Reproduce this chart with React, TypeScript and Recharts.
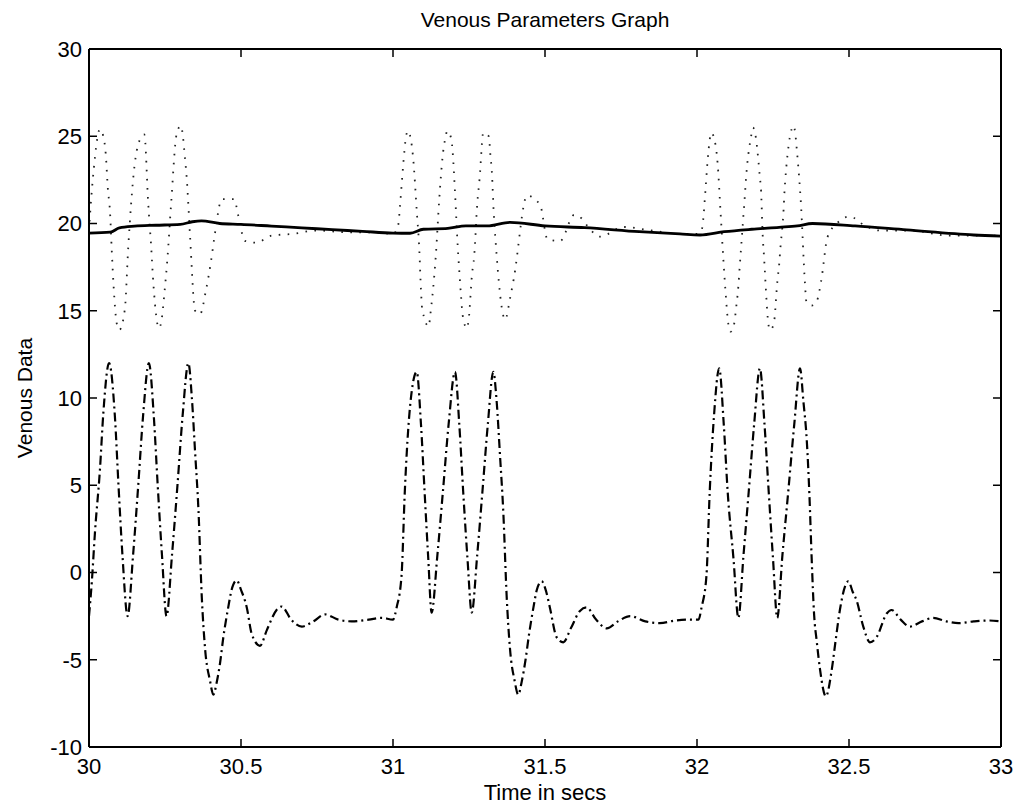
import React from 'react';
import { LineChart, Line, XAxis, YAxis } from 'recharts';

// x axis (seconds) and y axis ticks
const xTicks = [30, 30.5, 31, 31.5, 32, 32.5, 33];
const yTicks = [-10, -5, 0, 5, 10, 15, 20, 25, 30];

// solid line: slowly drifting level
const solidTimes = [
  30.0, 30.07, 30.1, 30.15, 30.22, 30.3, 30.34, 30.37, 30.43, 30.5, 30.6, 30.7, 30.8, 30.9,
  31.0, 31.056, 31.1, 31.18, 31.24, 31.31, 31.385, 31.5, 31.63, 31.81, 31.944,
  32.01, 32.09, 32.18, 32.27, 32.33, 32.38, 32.52, 32.69, 32.91, 33.0,
];
const solidValues = [
  19.45, 19.5, 19.75, 19.85, 19.9, 19.95, 20.1, 20.15, 20.0, 19.95, 19.85, 19.75, 19.65, 19.55,
  19.45, 19.44, 19.67, 19.72, 19.86, 19.86, 20.07, 19.86, 19.76, 19.53, 19.4,
  19.34, 19.53, 19.67, 19.78, 19.86, 20.0, 19.86, 19.63, 19.34, 19.28,
];

// dotted line
const dottedTimes = [
  30.0, 30.003, 30.015, 30.036, 30.047, 30.055, 30.062, 30.069, 30.075, 30.081, 30.091, 30.1,
  30.118, 30.129, 30.149, 30.165, 30.182, 30.195, 30.204, 30.212, 30.23, 30.239, 30.248, 30.258,
  30.27, 30.288, 30.302, 30.316, 30.323, 30.332, 30.349, 30.365, 30.385, 30.401, 30.414, 30.437,
  30.477, 30.491, 30.504, 30.514, 30.55, 30.6, 30.667, 30.75, 30.85, 30.95,
  31.0, 31.017, 31.023, 31.034, 31.043, 31.049, 31.063, 31.066, 31.079, 31.086, 31.092, 31.096,
  31.118, 31.122, 31.141, 31.152, 31.158, 31.163, 31.171, 31.179, 31.191, 31.216, 31.224, 31.229,
  31.243, 31.249, 31.26, 31.267, 31.277, 31.285, 31.297, 31.315, 31.32, 31.325, 31.332, 31.337,
  31.369, 31.386, 31.397, 31.441, 31.484, 31.508, 31.55, 31.596, 31.62, 31.64, 31.68, 31.76,
  31.85, 31.95,
  32.0, 32.015, 32.029, 32.033, 32.038, 32.047, 32.062, 32.068, 32.078, 32.087, 32.093, 32.103,
  32.111, 32.124, 32.127, 32.136, 32.14, 32.15, 32.159, 32.161, 32.178, 32.184, 32.192, 32.202,
  32.207, 32.21, 32.217, 32.219, 32.229, 32.231, 32.24, 32.252, 32.265, 32.271, 32.273, 32.285,
  32.288, 32.29, 32.305, 32.318, 32.323, 32.329, 32.342, 32.355, 32.36, 32.378, 32.394, 32.408,
  32.429, 32.46, 32.503, 32.55, 32.6, 32.7, 32.83, 33.0,
];
const dottedValues = [
  19.6, 20.4, 23.0, 25.4, 25.0, 24.0, 22.0, 20.7, 18.4, 16.4, 14.3, 13.9,
  15.1, 18.6, 23.2, 24.7, 25.1, 21.1, 18.8, 16.5, 14.0, 14.5, 16.0, 18.0,
  21.1, 25.1, 25.6, 23.7, 22.2, 19.4, 15.0, 14.8, 16.2, 17.8, 19.4, 21.4,
  21.4, 20.45, 19.4, 19.0, 18.9, 19.3, 19.4, 19.6, 19.5, 19.5,
  19.4, 19.9, 21.0, 23.45, 25.0, 25.3, 24.3, 23.8, 20.5, 18.7, 16.2, 15.1,
  14.1, 14.65, 18.2, 21.35, 22.8, 23.8, 24.8, 25.3, 24.9, 17.8, 15.8, 14.75,
  14.0, 14.5, 17.1, 18.1, 21.1, 22.6, 25.2, 25.0, 24.0, 23.0, 20.4, 19.1,
  14.5, 15.8, 16.8, 21.6, 21.06, 19.1, 19.0, 20.5, 20.3, 19.85, 19.25, 19.8,
  19.6, 19.4,
  19.4, 19.6, 22.2, 23.2, 24.2, 25.2, 24.4, 23.4, 20.5, 17.85, 16.3, 14.25,
  13.8, 14.4, 14.9, 16.4, 17.4, 19.8, 22.0, 22.5, 25.0, 25.5, 25.1, 23.6,
  22.6, 22.1, 19.0, 18.5, 15.5, 14.95, 13.9, 14.2, 16.8, 17.8, 18.3, 20.85,
  21.9, 22.4, 24.9, 25.6, 25.2, 24.1, 21.1, 16.6, 15.5, 15.3, 15.55, 16.65,
  19.2, 20.0, 20.4, 19.9, 19.6, 19.6, 19.3, 19.3,
];

// dash-dot line
const dashTimes = [
  30.0, 30.009, 30.02, 30.036, 30.047, 30.066, 30.085, 30.097, 30.11, 30.127, 30.145, 30.162,
  30.178, 30.197, 30.213, 30.226, 30.24, 30.255, 30.273, 30.291, 30.308, 30.327, 30.338, 30.349,
  30.36, 30.371, 30.382, 30.398, 30.409, 30.42, 30.431, 30.442, 30.458, 30.469, 30.486, 30.5,
  30.519, 30.535, 30.5625, 30.585, 30.617, 30.634, 30.665, 30.7, 30.738, 30.776, 30.82, 30.864,
  30.92, 30.963, 31.0,
  31.012, 31.028, 31.039, 31.056, 31.078, 31.092, 31.104, 31.116, 31.127, 31.146, 31.164, 31.183,
  31.204, 31.218, 31.231, 31.245, 31.259, 31.277, 31.294, 31.312, 31.33, 31.341, 31.352, 31.363,
  31.374, 31.385, 31.4, 31.412, 31.424, 31.436, 31.447, 31.462, 31.473, 31.489, 31.504, 31.516,
  31.538, 31.56, 31.585, 31.615, 31.637, 31.668, 31.703, 31.74, 31.78, 31.83, 31.878, 31.93,
  31.977, 32.005,
  32.015, 32.031, 32.042, 32.056, 32.073, 32.088, 32.101, 32.12, 32.136, 32.153, 32.17, 32.188,
  32.207, 32.222, 32.236, 32.25, 32.264, 32.281, 32.3, 32.32, 32.339, 32.35, 32.361, 32.37,
  32.377, 32.385, 32.394, 32.405, 32.424, 32.443, 32.456, 32.47, 32.487, 32.498, 32.512, 32.525,
  32.547, 32.569, 32.591, 32.624, 32.64, 32.67, 32.7, 32.74, 32.777, 32.82, 32.86, 32.91,
  32.958, 33.0,
];
const dashValues = [
  -2.5, -0.6, 2.4, 5.9, 9.1, 12.0, 9.0, 5.0, 1.0, -2.5, 1.0, 5.0,
  9.0, 12.0, 9.0, 5.0, 1.0, -2.5, 1.0, 5.0, 9.0, 12.0, 10.1, 6.9,
  3.6, -1.4, -4.4, -6.2, -7.0, -6.3, -5.2, -3.7, -2.0, -1.0, -0.45, -1.0,
  -2.0, -3.5, -4.2, -3.3, -2.15, -1.95, -2.7, -3.1, -2.8, -2.4, -2.7, -2.8,
  -2.7, -2.6, -2.7,
  -2.0, -0.2, 4.7, 9.5, 11.5, 8.5, 4.6, 0.8, -2.3, 1.0, 4.6, 8.5,
  11.5, 8.5, 4.6, 0.8, -2.3, 1.0, 4.6, 8.5, 11.5, 9.8, 6.7, 3.4,
  -1.4, -4.4, -6.2, -7.0, -6.2, -5.0, -3.6, -2.0, -1.0, -0.5, -1.1, -2.0,
  -3.7, -4.0, -3.2, -2.2, -2.0, -2.7, -3.2, -2.8, -2.5, -2.8, -2.9, -2.75,
  -2.7, -2.7,
  -2.0, -0.2, 4.7, 9.0, 11.7, 8.5, 4.6, 0.8, -2.6, 1.0, 4.6, 8.5,
  11.7, 8.5, 4.6, 0.8, -2.6, 1.0, 4.6, 8.5, 11.7, 9.8, 7.6, 4.35,
  0.9, -2.35, -3.96, -5.6, -7.1, -5.6, -3.9, -2.15, -0.8, -0.5, -1.1, -1.6,
  -3.1, -4.0, -3.7, -2.35, -2.15, -2.7, -3.1, -2.8, -2.6, -2.8, -2.9, -2.8,
  -2.75, -2.8,
];

const toPoints = (ts: number[], vs: number[]) => ts.map((t, i) => ({ t, v: vs[i] }));

const solidData = toPoints(solidTimes, solidValues);
const dottedData = toPoints(dottedTimes, dottedValues);
const dashData = toPoints(dashTimes, dashValues);

const FONT = '"Liberation Sans", Arial, Helvetica, sans-serif';
const tickStyle = { fill: '#000', fontSize: 22, fontFamily: FONT };
const noLabel = () => <g />;
const frameLine = { stroke: '#000', strokeWidth: 2 };
const tickMark = { stroke: '#000', strokeWidth: 1.5 };

const App: React.FC = () => {
  return (
    <div style={{ position: 'absolute', left: 0, top: 0, width: 1021, height: 808, background: '#fff', fontFamily: FONT }}>
      <LineChart width={1021} height={808} data={dashData} margin={{ top: 48, right: 19, bottom: 0, left: 0 }}>
        <XAxis
          xAxisId="bottom"
          dataKey="t"
          type="number"
          domain={[30, 33]}
          ticks={xTicks}
          allowDataOverflow
          height={61}
          tickSize={-8}
          tickMargin={19}
          tick={tickStyle}
          axisLine={frameLine}
          tickLine={tickMark}
        />
        <XAxis
          xAxisId="top"
          orientation="top"
          dataKey="t"
          type="number"
          domain={[30, 33]}
          ticks={xTicks}
          allowDataOverflow
          height={1}
          tickSize={-8}
          tick={noLabel}
          axisLine={frameLine}
          tickLine={tickMark}
        />
        <YAxis
          yAxisId="left"
          type="number"
          domain={[-10, 30]}
          ticks={yTicks}
          allowDataOverflow
          width={89}
          tickSize={-8}
          tickMargin={15}
          tick={tickStyle}
          axisLine={frameLine}
          tickLine={tickMark}
        />
        <YAxis
          yAxisId="right"
          orientation="right"
          type="number"
          domain={[-10, 30]}
          ticks={yTicks}
          allowDataOverflow
          width={1}
          tickSize={-8}
          tick={noLabel}
          axisLine={frameLine}
          tickLine={tickMark}
        />
        <Line
          xAxisId="bottom"
          yAxisId="left"
          data={dashData}
          dataKey="v"
          type="monotone"
          stroke="#000"
          strokeWidth={2.2}
          strokeDasharray="9 4 2 4"
          dot={false}
          activeDot={false}
          isAnimationActive={false}
        />
        <Line
          xAxisId="bottom"
          yAxisId="left"
          data={dottedData}
          dataKey="v"
          type="monotone"
          stroke="#222"
          strokeWidth={1.8}
          strokeDasharray="1.6 7.4"
          dot={false}
          activeDot={false}
          isAnimationActive={false}
        />
        <Line
          xAxisId="top"
          yAxisId="right"
          data={solidData}
          dataKey="v"
          type="monotone"
          stroke="#000"
          strokeWidth={2.8}
          dot={false}
          activeDot={false}
          isAnimationActive={false}
        />
      </LineChart>
      <div style={{ position: 'absolute', left: 0, width: 1090, top: 8, textAlign: 'center', fontSize: 21, color: '#000' }}>
        Venous Parameters Graph
      </div>
      <div style={{ position: 'absolute', left: 0, width: 1090, top: 780, textAlign: 'center', fontSize: 22, color: '#000' }}>
        Time in secs
      </div>
      <div
        style={{
          position: 'absolute',
          left: 25,
          top: 398,
          transform: 'translate(-50%, -50%) rotate(-90deg)',
          whiteSpace: 'nowrap',
          fontSize: 21,
          color: '#000',
        }}
      >
        Venous Data
      </div>
    </div>
  );
};

export default App;
